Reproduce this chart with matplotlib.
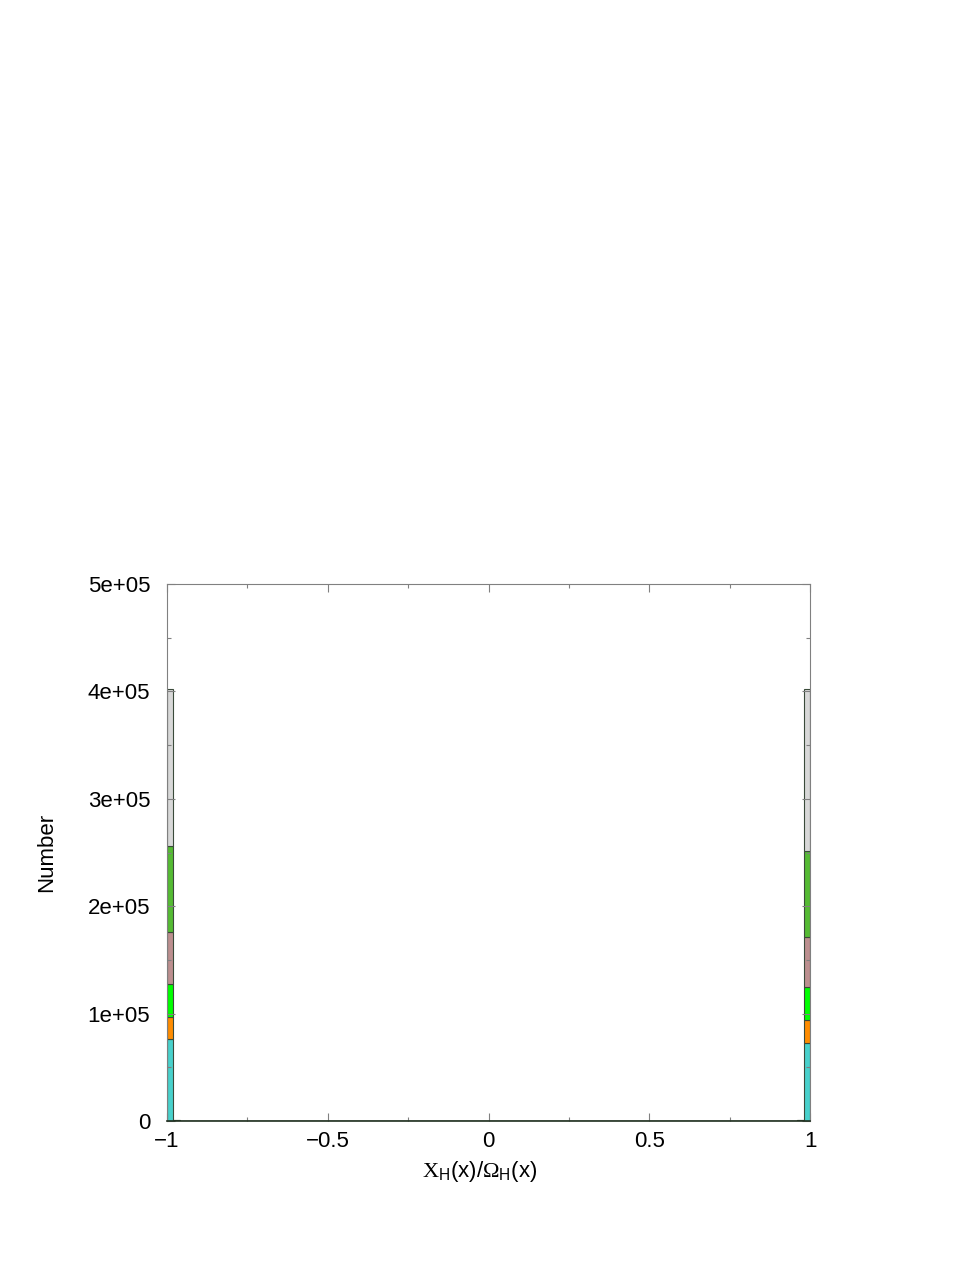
import numpy as np
import matplotlib

matplotlib.use("Agg")
import matplotlib.pyplot as plt
from matplotlib.ticker import MultipleLocator

plt.rcParams["font.family"] = ["Liberation Sans", "DejaVu Sans"]
plt.rcParams["mathtext.fontset"] = "custom"
plt.rcParams["mathtext.rm"] = "Liberation Serif"
plt.rcParams["mathtext.sf"] = "Liberation Sans"

# histogram bins of X_H/Omega_H (100 bins over [-1, 1])
bin_edges = np.linspace(-1.0, 1.0, 101)

# stacked layers, bottom -> top
layer_colors = ["#48d1cc", "#ff8c00", "#00ff00", "#bc8f8f", "#55bb33", "#d8d8d8"]
# counts per layer in the end bins
left_end = [76400, 20400, 30800, 48400, 80000, 146500]     # bin [-1, -0.98]
left_next = [200, 60, 80, 120, 200, 400]                   # bin [-0.98, -0.96]
right_prev = [200, 60, 80, 120, 200, 400]                  # bin [0.96, 0.98]
right_end = [72600, 21400, 30800, 46200, 80400, 150600]    # bin [0.98, 1]

yticks = [0, 1e5, 2e5, 3e5, 4e5, 5e5]
ytick_labels = ["0", "1e+05", "2e+05", "3e+05", "4e+05", "5e+05"]
xticks = [-1, -0.5, 0, 0.5, 1]
xtick_labels = ["\u22121", "\u22120.5", "0", "0.5", "1"]

nb = len(bin_edges) - 1
layers = []
for i in range(len(layer_colors)):
    c = np.zeros(nb)
    c[0] = left_end[i]
    c[1] = left_next[i]
    c[-2] = right_prev[i]
    c[-1] = right_end[i]
    layers.append(c)

fig = plt.figure(figsize=(9.77, 12.64), dpi=100)
ax = fig.add_axes([0.1709, 0.1131, 0.6582, 0.4249])

bottom = np.zeros(nb)
width = bin_edges[1] - bin_edges[0]
for c, col in zip(layers, layer_colors):
    ax.bar(bin_edges[:-1], c, width=width, bottom=bottom, align="edge",
           color=col, edgecolor="#3a4a3a", linewidth=0.8)
    bottom += c

ax.set_xlim(-1, 1)
ax.set_ylim(0, 5e5)
ax.set_xticks(xticks)
ax.set_xticklabels(xtick_labels)
ax.set_yticks(yticks)
ax.set_yticklabels(ytick_labels)
ax.xaxis.set_minor_locator(MultipleLocator(0.25))
ax.yaxis.set_minor_locator(MultipleLocator(5e4))
ax.tick_params(which="both", direction="in", top=True, right=True,
               color="#808080", labelsize=16)
ax.tick_params(which="major", length=6, width=0.8)
ax.tick_params(which="minor", length=3, width=0.8)
ax.tick_params(axis="x", pad=7)
ax.tick_params(axis="y", pad=12)
for side in ["left", "right", "top"]:
    ax.spines[side].set_color("#808080")
    ax.spines[side].set_linewidth(0.8)
ax.spines["bottom"].set_color("#203020")
ax.spines["bottom"].set_linewidth(1.2)

ax.set_xlabel(r"$\mathrm{X}_{\mathsf{H}}\mathsf{(x)/}\mathrm{\Omega}_{\mathsf{H}}\mathsf{(x)}$",
              fontsize=16)
ax.xaxis.set_label_coords(0.487, -0.07)
ax.set_ylabel("Number", fontsize=16, labelpad=22)

fig.savefig("out.png", dpi=100)
plt.close(fig)
